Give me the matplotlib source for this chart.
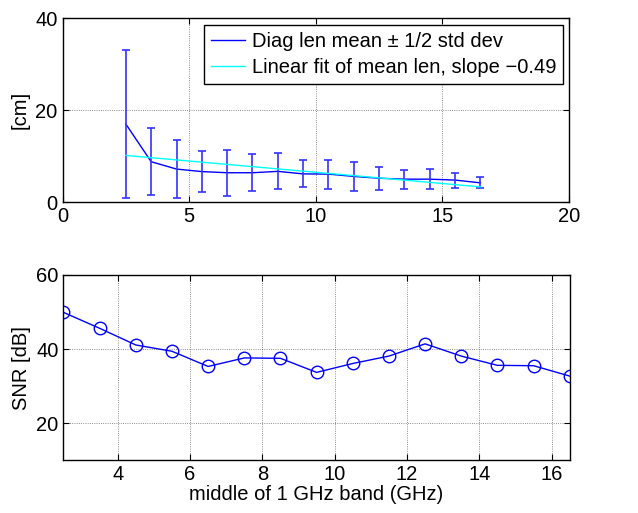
import numpy as np
import matplotlib.pyplot as plt

plt.rcParams['font.family'] = ['Liberation Sans', 'DejaVu Sans']

# band centres (GHz)
band = [2.5, 3.5, 4.5, 5.5, 6.5, 7.5, 8.5, 9.5, 10.5, 11.5, 12.5, 13.5, 14.5, 15.5, 16.5]

# diagonal length mean and half std dev (cm)
len_mean = [17.0, 8.8, 7.2, 6.65, 6.4, 6.4, 6.7, 6.15, 6.1, 5.6, 5.2, 5.0, 5.0, 4.8, 4.2]
len_err = [16.2, 7.3, 6.3, 4.4, 5.0, 4.0, 3.9, 2.95, 3.15, 3.15, 2.5, 2.05, 2.2, 1.65, 1.2]

# SNR (dB)
snr = [49.9, 45.6, 41.1, 39.4, 35.3, 37.6, 37.5, 33.7, 36.1, 38.1, 41.4, 38.1, 35.6, 35.5, 32.7]

fs = 14.5

fig = plt.figure(figsize=(6.38, 5.13), dpi=100)
ax1 = fig.add_axes([0.098, 0.606, 0.794, 0.358])
ax2 = fig.add_axes([0.0995, 0.103, 0.7935, 0.361])

# top panel
x = np.array(band)
p = np.polyfit(x, len_mean, 1)
ax1.plot(x, len_mean, color='blue', lw=1,
         label='Diag len mean \u00b1 1/2 std dev')
ax1.errorbar(x, len_mean, yerr=len_err, fmt='none', ecolor='#3333ff',
             elinewidth=1.2, capsize=3, capthick=1.2)
ax1.plot(x, np.polyval(p, x), color='cyan', lw=1,
         label=('Linear fit of mean len, slope %.2f' % p[0]).replace('-', '\u2212'))
ax1.set_xlim(0, 20)
ax1.set_ylim(0, 40)
ax1.set_xticks([0, 5, 10, 15, 20])
ax1.set_yticks([0, 20, 40])
ax1.set_ylabel('[cm]', fontsize=fs)
leg = ax1.legend(loc='upper right', fontsize=fs, frameon=True, fancybox=False,
                 edgecolor='black', framealpha=1, handlelength=1.7,
                 handletextpad=0.3, borderpad=0.35, labelspacing=0.35,
                 borderaxespad=0.3)
leg.get_frame().set_linewidth(1)

# bottom panel
ax2.plot(band, snr, color='blue', lw=1, marker='o', markersize=9,
         markerfacecolor='none', markeredgecolor='blue', markeredgewidth=1)
ax2.set_xlim(2.5, 16.5)
ax2.set_ylim(10, 60)
ax2.set_xticks([4, 6, 8, 10, 12, 14, 16])
ax2.set_yticks([20, 40, 60])
ax2.set_ylabel('SNR [dB]', fontsize=fs)
ax2.set_xlabel('middle of 1 GHz band (GHz)', fontsize=fs, labelpad=1)

for ax in (ax1, ax2):
    ax.grid(True, linestyle=':', color='black', lw=0.6, alpha=0.6)
    ax.tick_params(direction='in', top=True, right=True, labelsize=fs, length=4)
    for s in ax.spines.values():
        s.set_linewidth(1)

fig.savefig('out.png', dpi=100)
